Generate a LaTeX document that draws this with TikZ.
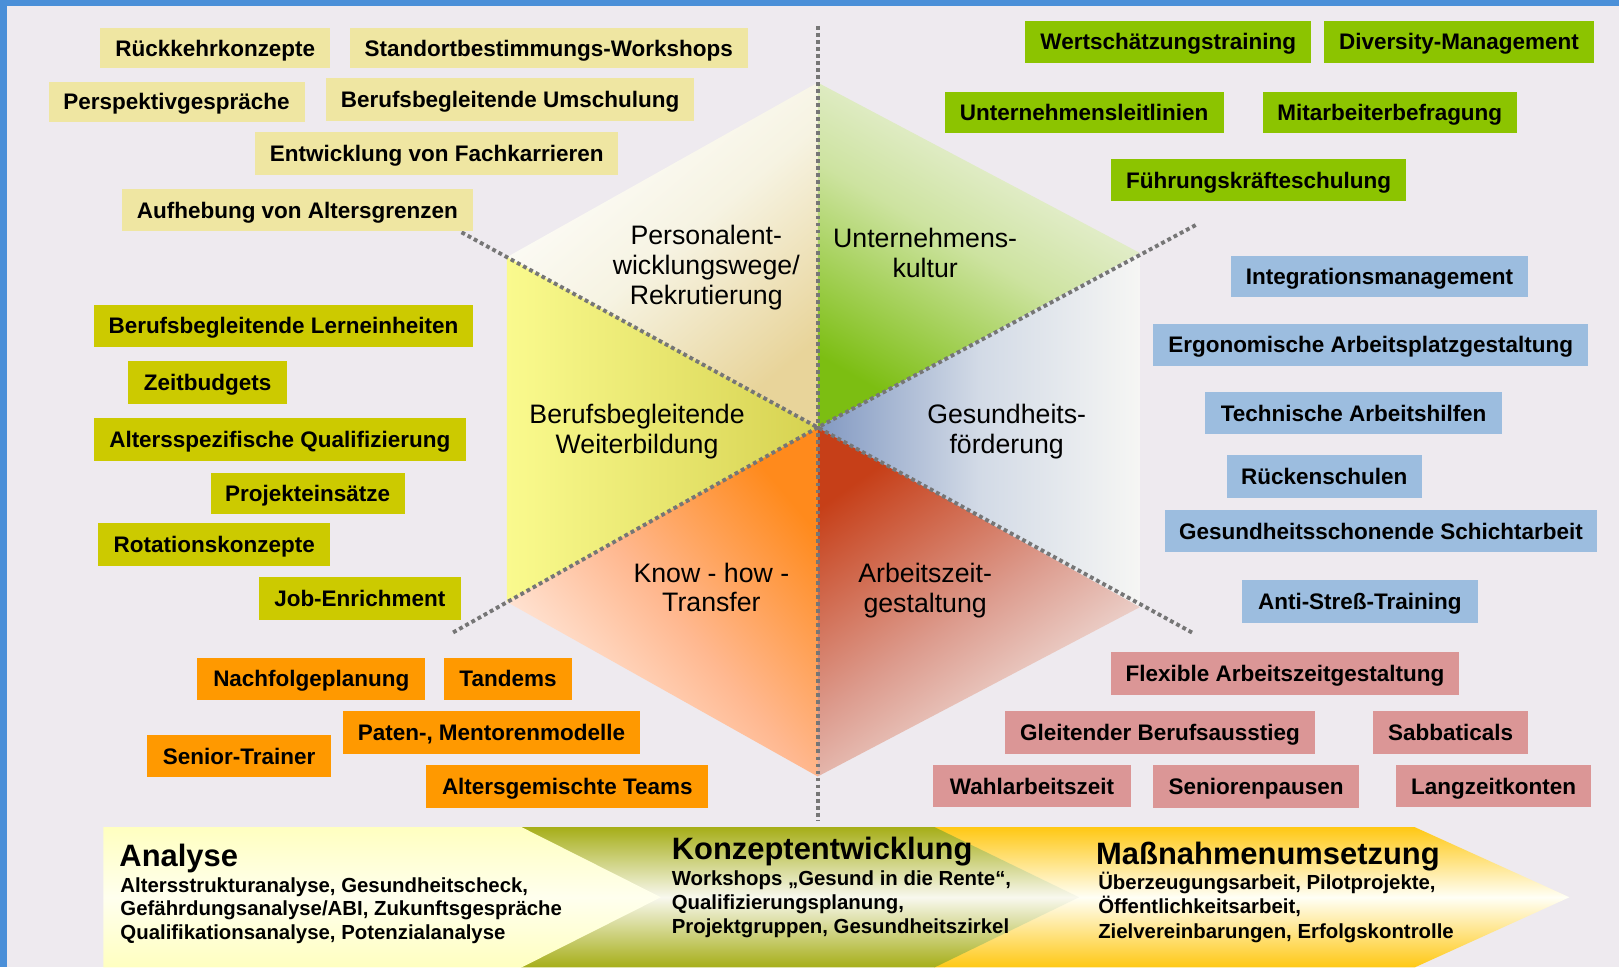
\documentclass[tikz,border=0pt]{standalone}
\usepackage{fontspec}
\setmainfont{Liberation Sans}
\newcommand\boxf{\fontsize{6.4}{7.6}\selectfont\bfseries}
\newcommand\hexf{\fontsize{7.6}{8.5}\selectfont}
\newcommand\headf{\fontsize{8.8}{10}\selectfont\bfseries}
\newcommand\descf{\fontsize{5.8}{6.8}\selectfont\bfseries}
\definecolor{bg}{HTML}{EEEAEF}
\definecolor{frame}{HTML}{4A8FD8}
\definecolor{kh}{HTML}{EFE6A2}
\definecolor{gr}{HTML}{8CC400}
\definecolor{bl}{HTML}{9CBDDF}
\definecolor{ol}{HTML}{CCCA00}
\definecolor{og}{HTML}{FF9900}
\definecolor{pk}{HTML}{DB9696}
\definecolor{dotc}{HTML}{767676}
% sector shading colours
\definecolor{sAa}{HTML}{E8D49A}
\definecolor{sAm}{HTML}{F6F3E2}
\definecolor{sBt}{HTML}{F6F6F0}
\definecolor{sBb}{HTML}{7CBE12}
\definecolor{sBm}{HTML}{CDE3A0}
\definecolor{sCl}{HTML}{FAFA8E}
\definecolor{sCr}{HTML}{D6D250}
\definecolor{sDl}{HTML}{8299C2}
\definecolor{sDr}{HTML}{F6F6F4}
\definecolor{sDm}{HTML}{D2DAE6}
\definecolor{sEt}{HTML}{FF8A1C}
\definecolor{sEb}{HTML}{FFF2EA}
\definecolor{sEm}{HTML}{FFB890}
\definecolor{sFt}{HTML}{C63F18}
\definecolor{sFb}{HTML}{F6F4F2}
\definecolor{sFm}{HTML}{DC9A8C}
\definecolor{cY}{HTML}{FFC814}
\definecolor{cYm}{HTML}{FFFFF6}
\definecolor{cO}{HTML}{A6AE18}
\definecolor{cOm}{HTML}{F8F8EE}
\definecolor{cP}{HTML}{FFFFC0}
\definecolor{cPm}{HTML}{FFFFEE}
\newcommand\mybox[7]{\node[bx,fill=#6,minimum width={(#4-#2)*0.010325cm},minimum height={(#5-#3)*0.010325cm}] (#1) at ({(#2+#4)/2},{(#3+#5)/2}) {#7};}
\begin{document}
\begin{tikzpicture}[x=0.010325cm,y=-0.010325cm,
  bx/.style={inner sep=0pt, font=\boxf, text=black, text height=4.6pt, text depth=0pt},
  hexl/.style={align=center, font=\hexf, inner sep=0pt},
  dotl/.style={draw=dotc, line width=1.1pt, dash pattern=on 1.1pt off 0.9pt},
  hd/.style={anchor=base west, inner sep=0pt, font=\headf},
  ds/.style={anchor=base west, inner sep=0pt, font=\descf}]
\useasboundingbox (0,0) rectangle (1568,937);
\fill[bg] (0,0) rectangle (1568,937);
\fill[frame] (0,0) rectangle (1568,6);
\fill[frame] (0,0) rectangle (7,937);

% hexagon
\coordinate (C) at (792,414);
\coordinate (T) at (792,80);
\coordinate (B) at (792,752);
\coordinate (UL) at (491,249);
\coordinate (LL) at (491,583);
\coordinate (UR) at (1104,245);
\coordinate (LR) at (1104,588);

\begin{scope}
  \clip (C)--(T)--(UL)--cycle;
  \shade[top color=white, bottom color=sAa, middle color=sAm, shading angle=40] (491,80) rectangle (792,414);
\end{scope}
\begin{scope}
  \clip (C)--(T)--(UR)--cycle;
  \shade[top color=sBt, bottom color=sBb, middle color=sBm, shading angle=-30] (792,80) rectangle (1104,414);
\end{scope}
\begin{scope}
  \clip (C)--(UL)--(LL)--cycle;
  \shade[left color=sCl, right color=sCr] (491,249) rectangle (792,583);
\end{scope}
\begin{scope}
  \clip (C)--(UR)--(LR)--cycle;
  \shade[left color=sDl, right color=sDr, middle color=sDm] (792,245) rectangle (1104,588);
\end{scope}
\begin{scope}
  \clip (C)--(LL)--(B)--cycle;
  \shade[top color=sEt, bottom color=sEb, middle color=sEm, shading angle=-50] (491,414) rectangle (792,752);
\end{scope}
\begin{scope}
  \clip (C)--(LR)--(B)--cycle;
  \shade[top color=sFt, bottom color=sFb, middle color=sFm, shading angle=35] (792,414) rectangle (1104,752);
\end{scope}

% dotted lines
\coordinate (dT) at (792,25);
\coordinate (dB) at (792,795);
\coordinate (dUL) at (447,225);
\coordinate (dLR) at (1157,614);
\coordinate (dUR) at (1158,218);
\coordinate (dLL) at (438,613);
\draw[dotl] (dT) -- (dB);
\draw[dotl] (dUL) -- (C) -- (dLR);
\draw[dotl] (dUR) -- (C) -- (dLL);

% hex labels
\node[hexl] (lP) at (684,259) {Personalent-\\wicklungswege/\\Rekrutierung};
\node[hexl] (lU) at (896,245) {Unternehmens-\\kultur};
\node[hexl] (lB) at (617,418) {Berufsbegleitende\\Weiterbildung};
\node[hexl] (lG) at (975,418) {Gesundheits-\\förderung};
\node[hexl] (lK) at (689,569) {Know - how -\\Transfer};
\node[hexl] (lA) at (896,572) {Arbeitszeit-\\gestaltung};

% khaki boxes
\mybox{k1}{97}{27}{320}{66}{kh}{Rückkehrkonzepte}
\mybox{k2}{339}{27}{724}{66}{kh}{Standortbestimmungs-Workshops}
\mybox{k3}{47}{79}{295}{118}{kh}{Perspektivgespräche}
\mybox{k4}{316}{76}{672}{117}{kh}{Berufsbegleitende Umschulung}
\mybox{k5}{247}{128}{599}{169}{kh}{Entwicklung von Fachkarrieren}
\mybox{k6}{118}{183}{458}{224}{kh}{Aufhebung von Altersgrenzen}
% green boxes
\mybox{g1}{993}{20}{1270}{61}{gr}{Wertschätzungstraining}
\mybox{g2}{1282}{20}{1544}{61}{gr}{Diversity-Management}
\mybox{g3}{915}{89}{1185}{129}{gr}{Unternehmensleitlinien}
\mybox{g4}{1223}{89}{1469}{129}{gr}{Mitarbeiterbefragung}
\mybox{g5}{1076}{154}{1362}{195}{gr}{Führungskräfteschulung}
% blue boxes
\mybox{b1}{1192}{248}{1480}{288}{bl}{Integrationsmanagement}
\mybox{b2}{1117}{314}{1538}{354}{bl}{Ergonomische Arbeitsplatzgestaltung}
\mybox{b3}{1167}{380}{1455}{420}{bl}{Technische Arbeitshilfen}
\mybox{b4}{1188}{441}{1377}{482}{bl}{Rückenschulen}
\mybox{b5}{1128}{494}{1547}{535}{bl}{Gesundheitsschonende Schichtarbeit}
\mybox{b6}{1203}{562}{1431}{603}{bl}{Anti-Streß-Training}
% olive boxes
\mybox{o1}{91}{295}{458}{336}{ol}{Berufsbegleitende Lerneinheiten}
\mybox{o2}{124}{350}{278}{391}{ol}{Zeitbudgets}
\mybox{o3}{91}{405}{451}{446}{ol}{Altersspezifische Qualifizierung}
\mybox{o4}{204}{458}{392}{498}{ol}{Projekteinsätze}
\mybox{o5}{95}{507}{320}{548}{ol}{Rotationskonzepte}
\mybox{o6}{251}{559}{446}{600}{ol}{Job-Enrichment}
% orange boxes
\mybox{r1}{191}{637}{412}{678}{og}{Nachfolgeplanung}
\mybox{r2}{430}{637}{554}{678}{og}{Tandems}
\mybox{r3}{332}{689}{620}{730}{og}{Paten-, Mentorenmodelle}
\mybox{r4}{142}{712}{321}{753}{og}{Senior-Trainer}
\mybox{r5}{413}{741}{686}{783}{og}{Altersgemischte Teams}
% pink boxes
\mybox{p1}{1076}{631}{1413}{673}{pk}{Flexible Arbeitszeitgestaltung}
\mybox{p2}{973}{689}{1274}{730}{pk}{Gleitender Berufsausstieg}
\mybox{p3}{1330}{689}{1480}{730}{pk}{Sabbaticals}
\mybox{p4}{904}{741}{1095}{782}{pk}{Wahlarbeitszeit}
\mybox{p5}{1117}{741}{1316}{783}{pk}{Seniorenpausen}
\mybox{p6}{1352}{741}{1541}{782}{pk}{Langzeitkonten}

% bottom chevrons
\shade[top color=cY, bottom color=cY, middle color=cYm]
  (905,801) -- (1370,801) -- (1520,869) -- (1370,937) -- (905,937) -- cycle;
\shade[top color=cO, bottom color=cO, middle color=cOm]
  (505,801) -- (905,801) -- (1045,869) -- (905,937) -- (505,937) -- cycle;
\shade[top color=cP, bottom color=cP, middle color=cPm]
  (100,801) -- (505,801) -- (640,869) -- (505,937) -- (100,937) -- cycle;

\node[hd] (h1) at (115,839) {Analyse};
\node[ds] (d11) at (116,864) {Altersstrukturanalyse, Gesundheitscheck,};
\node[ds] (d12) at (116,887) {Gefährdungsanalyse/ABI, Zukunftsgespräche};
\node[ds] (d13) at (116,910) {Qualifikationsanalyse, Potenzialanalyse};

\node[hd] (h2) at (650,832) {Konzeptentwicklung};
\node[ds] (d21) at (650,858) {Workshops „Gesund in die Rente“,};
\node[ds] (d22) at (650,881) {Qualifizierungsplanung,};
\node[ds] (d23) at (650,904) {Projektgruppen, Gesundheitszirkel};

\node[hd] (h3) at (1061,837) {Maßnahmenumsetzung};
\node[ds] (d31) at (1063,861) {Überzeugungsarbeit, Pilotprojekte,};
\node[ds] (d32) at (1063,885) {Öffentlichkeitsarbeit,};
\node[ds] (d33) at (1063,909) {Zielvereinbarungen, Erfolgskontrolle};
\end{tikzpicture}
\end{document}
